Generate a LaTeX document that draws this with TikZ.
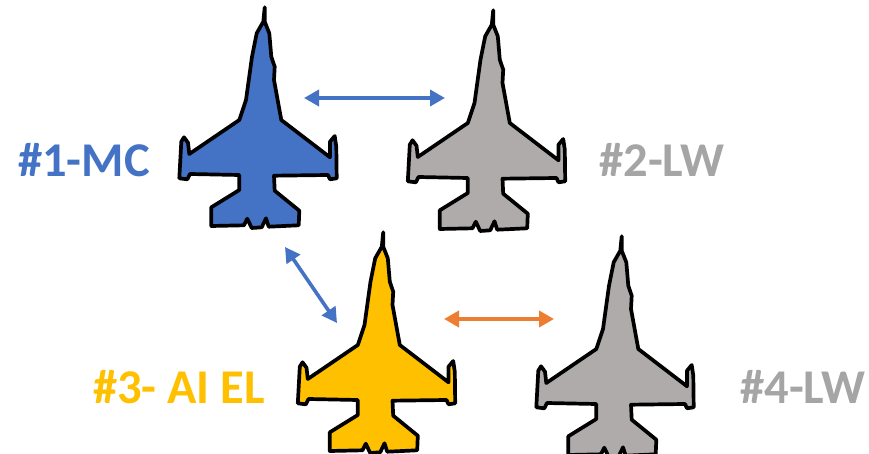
\documentclass[tikz,border=0pt]{standalone}
\usepackage{fontspec}
\setmainfont{Carlito}
\usetikzlibrary{arrows.meta}
\definecolor{mcblue}{HTML}{4472C4}
\definecolor{lwgray}{HTML}{AFABAB}
\definecolor{lwtext}{HTML}{A5A5A5}
\definecolor{elgold}{HTML}{FFC000}
\definecolor{linkorange}{HTML}{ED7D31}
\tikzset{
  jetbody/.style={draw=black,line width=3.7pt,line join=round,line cap=round},
  link/.style={line width=3.6pt,{Triangle[length=15pt,width=16pt]}-{Triangle[length=15pt,width=16pt]}},
  callsign/.style={font=\bfseries\fontsize{48.5}{48.5}\selectfont,inner sep=0pt,anchor=center},
  jet/.pic={
    \path[jetbody,fill=\pgfkeysvalueof{/tikz/jetfill}]
    (94.7,7.3)--(94.7,21.7)--(99.3,33.3)--(101.3,56.7)--(104.7,66.7)--(104,80)--(111.3,120)
    --(160,157.3)--(160,141.7)--(164.7,136)--(166.3,146.7)--(166.7,178.3)--(160,179.3)--(158,175)
    --(104,175.7)--(104.7,190.7)--(129.3,210.7)--(128.7,225.3)--(98.7,226.7)--(96,218.3)--(91.7,227.3)
    --(81.7,228)--(77.3,218.7)--(74,225.3)--(41.3,226)--(41.3,207.3)--(69.3,190)--(69.3,175)
    --(20,174)--(17.3,179.3)--(9.3,178.3)--(11.3,141.7)--(14,137.3)--(18,142.7)--(19.3,154)
    --(69.3,120)--(76,100)--(82,56.7)--(86.7,33.3)--(93.3,21.7)--cycle;
  },
  jetfill/.initial=black
}
\begin{document}
\begin{tikzpicture}[x=1pt,y=-1pt]
\useasboundingbox (0,0) rectangle (869,454);
\clip (0,0) rectangle (869,454);
\path (170,0) pic[jetfill=mcblue] {jet};
\path (398.5,3) pic[jetfill=lwgray] {jet};
\path (288.5,225) pic[jetfill=elgold] {jet};
\path (527,229) pic[jetfill=lwgray] {jet};
\node[callsign,text=mcblue] (lead) at (84,160) {\#1-MC};
\node[callsign,text=lwtext] (wing2) at (662,160) {\#2-LW};
\node[callsign,text=elgold] (ai) at (179,387) {\#3- AI EL};
\node[callsign,text=lwtext] (wing4) at (803,387) {\#4-LW};
\coordinate (a1) at (304,98);
\coordinate (a2) at (445,98);
\coordinate (b1) at (285,247);
\coordinate (b2) at (337,323);
\coordinate (c1) at (444,319);
\coordinate (c2) at (554,319);
\draw[link,mcblue] (a1) -- (a2);
\draw[link,mcblue] (b1) -- (b2);
\draw[link,linkorange] (c1) -- (c2);
\end{tikzpicture}
\end{document}
